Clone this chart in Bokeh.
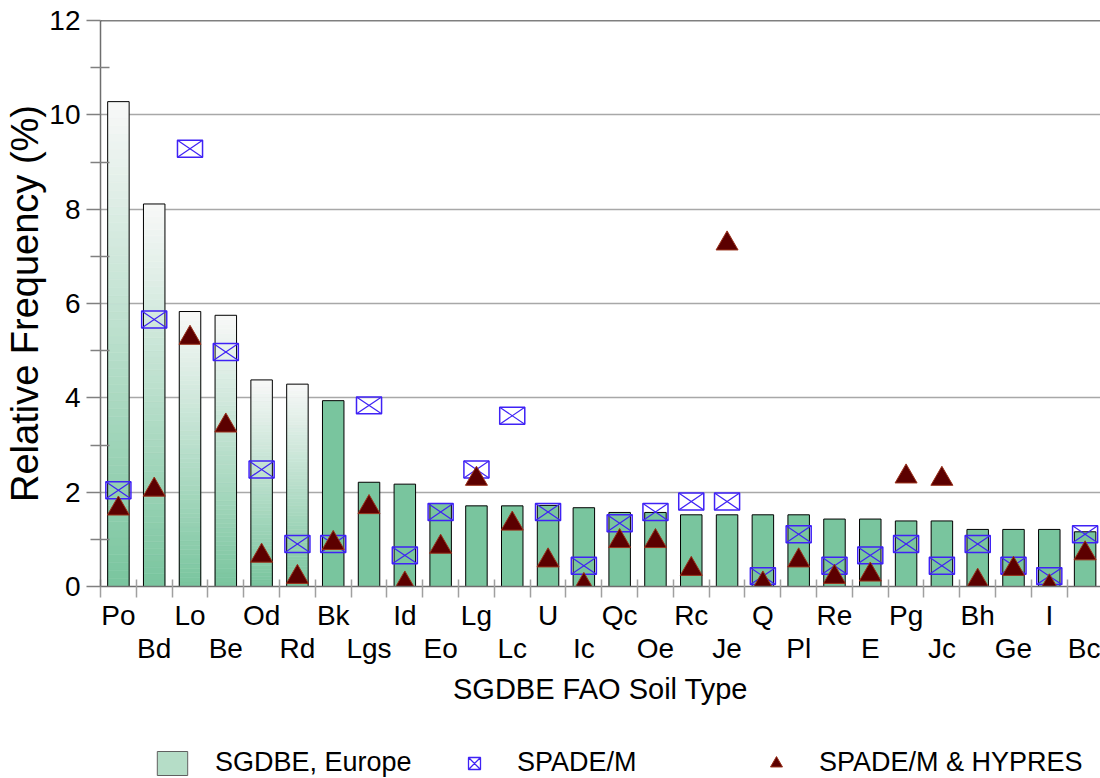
from bokeh.plotting import figure
from bokeh.layouts import column
from bokeh.models import FixedTicker, LinearAxis, Span, Legend, LegendItem, Range1d
from bokeh.embed import file_html
from bokeh.resources import INLINE

# ---------------- data ----------------
soil_types = ["Po", "Bd", "Lo", "Be", "Od", "Rd", "Bk", "Lgs", "Id", "Eo", "Lg", "Lc", "U", "Ic",
              "Qc", "Oe", "Rc", "Je", "Q", "Pl", "Re", "E", "Pg", "Jc", "Bh", "Ge", "I", "Bc"]
sgdbe_europe = [10.28, 8.11, 5.83, 5.75, 4.38, 4.29, 3.94, 2.21, 2.17, 1.76, 1.71, 1.71, 1.72, 1.67,
                1.57, 1.57, 1.52, 1.52, 1.52, 1.52, 1.43, 1.43, 1.39, 1.39, 1.21, 1.21, 1.21, 1.16]
spade_m = [2.04, 5.66, 9.28, 4.97, 2.48, 0.90, 0.90, 3.84, 0.66, 1.58, 2.48, 3.62, 1.58, 0.44,
           1.34, 1.58, 1.80, 1.80, 0.22, 1.11, 0.44, 0.66, 0.90, 0.44, 0.90, 0.44, 0.22, 1.11]
spade_hypres = [1.65, 2.05, 5.27, 3.41, 0.65, 0.20, 0.92, 1.68, 0.06, 0.84, 2.28, 1.33, 0.55, 0.03,
                0.96, 0.96, 0.37, 7.27, 0.06, 0.55, 0.20, 0.25, 2.33, 2.28, 0.12, 0.37, 0.00, 0.70]
y_ticks = [0, 2, 4, 6, 8, 10, 12]
y_minor_ticks = [1, 3, 5, 7, 9, 11]
series_names = ["SGDBE, Europe", "SPADE/M", "SPADE/M & HYPRES"]

# ---------------- style ----------------
FONT = "Liberation Sans"
GREEN = (121, 197, 158)
GREEN_HEX = "#79C59E"
BLUE = "#3F22F5"
TRI_FILL = "#5C0000"
TRI_LINE = "#99301A"
faded_bars = ["Po", "Bd", "Lo", "Be", "Od", "Rd"]   # bars drawn with a white-to-green fade
BAR_W = 0.6
SQ_W, SQ_H = 0.70, 0.36
N_SLICES = 60

xs = list(range(len(soil_types)))

p = figure(width=1100, height=707,
           x_range=Range1d(-0.5, 27.43), y_range=Range1d(0, 12),
           output_backend="svg", toolbar_location=None,
           min_border_left=100, min_border_right=0, min_border_top=20, min_border_bottom=120,
           outline_line_color=None, background_fill_color="white", border_fill_color="white")

# ---- bars: faded ones built from thin slices ----
sl_l, sl_r, sl_b, sl_t, sl_c = [], [], [], [], []
for i, (name, v) in enumerate(zip(soil_types, sgdbe_europe)):
    if name not in faded_bars:
        continue
    for k in range(N_SLICES):
        t = (k + 0.5) / N_SLICES
        c = tuple(int(round(g + (248 - g) * t)) for g in GREEN)
        sl_l.append(i - BAR_W / 2)
        sl_r.append(i + BAR_W / 2)
        sl_b.append(v * k / N_SLICES)
        sl_t.append(v * (k + 1) / N_SLICES)
        sl_c.append("#%02X%02X%02X" % c)
p.quad(left=sl_l, right=sl_r, bottom=sl_b, top=sl_t, fill_color=sl_c, line_color=sl_c, line_width=0.6)

fx = [i for i, n in enumerate(soil_types) if n in faded_bars]
fv = [sgdbe_europe[i] for i in fx]
p.vbar(x=fx, top=fv, bottom=0, width=BAR_W, fill_color=None, line_color="black", line_width=1)

sx_ = [i for i, n in enumerate(soil_types) if n not in faded_bars]
sv = [sgdbe_europe[i] for i in sx_]
p.vbar(x=sx_, top=sv, bottom=0, width=BAR_W, fill_color=GREEN_HEX, line_color="black", line_width=1)

# ---- SPADE/M boxes with a cross ----
p.rect(x=xs, y=spade_m, width=SQ_W, height=SQ_H, fill_color=None, line_color=BLUE, line_width=1.5)
p.segment(x0=[x - SQ_W / 2 for x in xs], y0=[v - SQ_H / 2 for v in spade_m],
          x1=[x + SQ_W / 2 for x in xs], y1=[v + SQ_H / 2 for v in spade_m],
          line_color=BLUE, line_width=1.2)
p.segment(x0=[x - SQ_W / 2 for x in xs], y0=[v + SQ_H / 2 for v in spade_m],
          x1=[x + SQ_W / 2 for x in xs], y1=[v - SQ_H / 2 for v in spade_m],
          line_color=BLUE, line_width=1.2)

# ---- SPADE/M & HYPRES triangles ----
p.scatter(x=xs, y=spade_hypres, marker="triangle", size=22,
          fill_color=TRI_FILL, line_color=TRI_LINE, line_width=1)

# ---- axes ----
xa = p.xaxis[0]
xa.ticker = FixedTicker(ticks=list(range(0, 28, 2)), minor_ticks=[i - 0.5 for i in range(0, 29)])
xa.major_label_overrides = {i: soil_types[i] for i in range(0, 28, 2)}
xa.major_tick_in = 0
xa.major_tick_out = 0
xa.minor_tick_in = 7
xa.minor_tick_out = 11
xa.minor_tick_line_color = "#A0A0A0"
xa.minor_tick_line_width = 1.5
xa.axis_line_color = "#6E6E6E"
xa.axis_line_width = 1.5
xa.major_label_text_font = FONT
xa.major_label_text_font_size = "28px"
xa.major_label_text_color = "black"
xa.major_label_standoff = 2

xc = LinearAxis(ticker=FixedTicker(ticks=list(range(1, 28, 2)), minor_ticks=[]),
                major_label_overrides={i: soil_types[i] for i in range(1, 28, 2)},
                axis_line_color=None, major_tick_line_color=None, minor_tick_line_color=None,
                major_tick_in=0, major_tick_out=0, minor_tick_in=0, minor_tick_out=0,
                major_label_standoff=-1,
                major_label_text_font=FONT, major_label_text_font_size="28px",
                major_label_text_color="black",
                axis_label="SGDBE FAO Soil Type", axis_label_text_font=FONT,
                axis_label_text_font_size="29px", axis_label_text_font_style="normal",
                axis_label_text_color="black", axis_label_standoff=6)
p.add_layout(xc, "below")

ya = p.yaxis[0]
ya.ticker = FixedTicker(ticks=y_ticks, minor_ticks=y_minor_ticks)
ya.major_tick_in = 0
ya.major_tick_out = 14
ya.minor_tick_in = 9
ya.minor_tick_out = 10
ya.major_tick_line_color = "#808080"
ya.minor_tick_line_color = "#808080"
ya.major_tick_line_width = 1.5
ya.minor_tick_line_width = 1.5
ya.axis_line_color = "#6E6E6E"
ya.axis_line_width = 1.5
ya.major_label_text_font = FONT
ya.major_label_text_font_size = "28px"
ya.major_label_text_color = "black"
ya.major_label_standoff = 6
ya.axis_label = "Relative Frequency (%)"
ya.axis_label_text_font = FONT
ya.axis_label_text_font_size = "38px"
ya.axis_label_text_font_style = "normal"
ya.axis_label_text_color = "black"
ya.axis_label_standoff = 0

p.xgrid.visible = False
p.ygrid[0].ticker = FixedTicker(ticks=y_ticks[1:-1])
p.ygrid[0].grid_line_color = "#A8A8A8"
p.ygrid[0].grid_line_width = 1.5

p.add_layout(Span(location=12, dimension="width", line_color="black", line_width=1.5))

# ---------------- legend strip (a second, axis-less figure) ----------------
lf = figure(width=1100, height=71, x_range=Range1d(-3, -2), y_range=Range1d(0, 12),
            output_backend="svg", toolbar_location=None, x_axis_location=None, y_axis_location=None,
            min_border=0, outline_line_color=None, background_fill_color="white",
            border_fill_color="white")
lf.xgrid.visible = False
lf.ygrid.visible = False
# legend proxies use the same data; the strip's x range lies outside it, so nothing is drawn
leg_bar = lf.quad(left=[x - BAR_W / 2 for x in xs], right=[x + BAR_W / 2 for x in xs],
                  bottom=[0] * len(xs), top=sgdbe_europe,
                  fill_color="#B5DDC7", line_color="#606060", line_width=1)
leg_sq = lf.scatter(x=xs, y=spade_m, marker="square_x", size=14,
                    fill_color=None, line_color=BLUE, line_width=1.3)
leg_tri = lf.scatter(x=xs, y=spade_hypres, marker="triangle", size=14,
                     fill_color=TRI_FILL, line_color=TRI_LINE, line_width=1)

legend = Legend(items=[LegendItem(label=series_names[0], renderers=[leg_bar]),
                       LegendItem(label=series_names[1], renderers=[leg_sq]),
                       LegendItem(label=series_names[2], renderers=[leg_tri])],
                orientation="horizontal", location=(53, 0),
                glyph_width=38, glyph_height=30, label_standoff=24, label_width=230, spacing=10,
                padding=0, margin=0, border_line_color=None, background_fill_alpha=0,
                label_text_font=FONT, label_text_font_size="27px", label_text_color="black")
lf.add_layout(legend)

layout = column(p, lf, spacing=0)
open("out.html", "w").write(file_html(layout, INLINE))
